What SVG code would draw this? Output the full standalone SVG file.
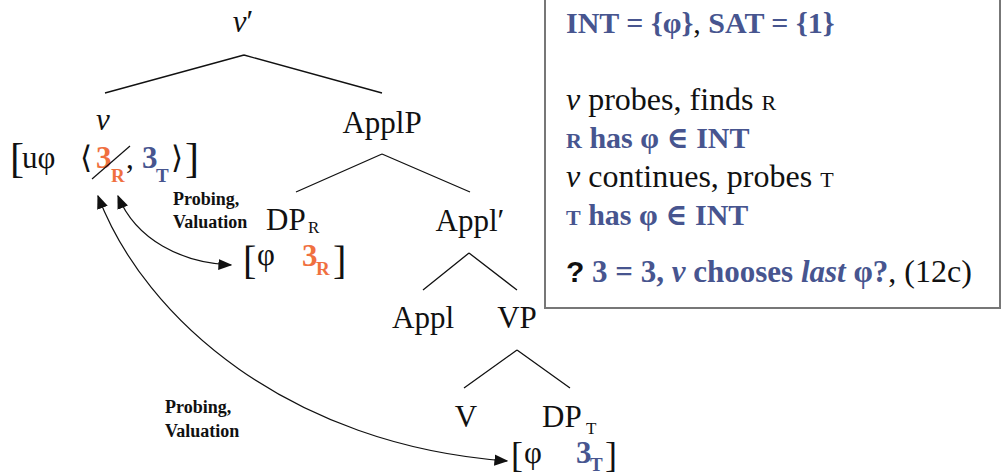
<svg xmlns="http://www.w3.org/2000/svg" width="1003" height="475" viewBox="0 0 1003 475">
<defs>
<style>
text{font-family:'Liberation Serif','DejaVu Serif',serif;font-size:31px;fill:#111}
.n{text-anchor:middle}
.o{fill:#f0703f;font-weight:bold}
.b{fill:#47558f;font-weight:bold}
.sub{font-size:19px;font-weight:bold}
.subn{font-size:17px}
.br{font-size:42px}
.lab{font-size:18px;font-weight:bold}
.bx{font-size:30px}
.bxr{font-size:32px}
.sc{font-size:22px}
.edge{stroke:#111;stroke-width:1.3;fill:none}
.arr{stroke:#111;stroke-width:1.2;fill:none;marker-start:url(#ah);marker-end:url(#ah)}
</style>
<marker id="ah" viewBox="0 0 10 10" refX="9" refY="5" markerWidth="14" markerHeight="14" markerUnits="userSpaceOnUse" orient="auto-start-reverse">
<path d="M0,1 L10,5 L0,9 z" fill="#111"/>
</marker>
</defs>
<g id="connectors">
<path class="edge" d="M244,55 L105,93 M244,55 L382,93"/>
<path class="edge" d="M382,154 L296,192 M382,154 L470,192"/>
<path class="edge" d="M469,253 L423,290 M469,253 L517,290"/>
<path class="edge" d="M517,350 L464,388 M517,350 L570,388"/>
<path class="arr" d="M118,196 C136,240 182,263 231,265"/>
<path class="arr" d="M98,196 C145,320 290,445 507,461"/>
</g>
<g id="vbar"><text class="n" x="243" y="32"><tspan font-style="italic">v</tspan>′</text></g>
<g id="v">
<text class="n" x="103" y="130" font-style="italic">v</text>
<text class="br" x="10" y="172">[</text>
<text x="22" y="168">uφ</text>
<text x="80" y="168">⟨</text>
<text class="o" x="96" y="168">3</text>
<text class="o sub" x="111" y="182">R</text>
<text x="126" y="168">,</text>
<text class="b" x="142" y="168">3</text>
<text class="b sub" x="156" y="182">T</text>
<text x="171" y="168">⟩</text>
<text class="br" x="185" y="172">]</text>
<line x1="92" y1="179" x2="130" y2="146" stroke="#111" stroke-width="1.2"/>
</g>
<g id="applp"><text class="n" x="382" y="133">ApplP</text></g>
<g id="dpr">
<text x="266" y="230">DP</text>
<text class="subn" x="308" y="233">R</text>
<text class="br" x="243" y="274" style="font-size:40px">[</text>
<text x="257" y="265">φ</text>
<text class="o" x="302" y="266">3</text>
<text class="o sub" x="316" y="275">R</text>
<text class="br" x="333" y="274" style="font-size:40px">]</text>
<text class="lab" x="173" y="205">Probing,</text>
<text class="lab" x="173" y="228">Valuation</text>
</g>
<g id="applbar"><text class="n" x="470" y="231">Appl′</text></g>
<g id="appl"><text class="n" x="423" y="328">Appl</text></g>
<g id="vp"><text class="n" x="517" y="328">VP</text></g>
<g id="V"><text class="n" x="466" y="427">V</text></g>
<g id="dpt">
<text x="542" y="427">DP</text>
<text class="subn" x="586" y="434">T</text>
<text class="br" x="511" y="467" style="font-size:36px">[</text>
<text x="524" y="463">φ</text>
<text class="b" x="576" y="463">3</text>
<text class="b sub" x="590" y="471">T</text>
<text class="br" x="605" y="467" style="font-size:36px">]</text>
<text class="lab" x="165" y="413">Probing,</text>
<text class="lab" x="165" y="437">Valuation</text>
</g>
<g id="box">
<rect x="545" y="-2" width="455" height="310" fill="#fff" stroke="#777" stroke-width="2"/>
<text class="bx b" x="566" y="33">INT = {φ}<tspan fill="#111" font-weight="normal">, </tspan>SAT = {1}</text>
<text class="bxr" x="566" y="110"><tspan font-style="italic">v</tspan> probes, finds <tspan class="sc">R</tspan></text>
<text class="bx b" x="566" y="148"><tspan class="sc">R</tspan> has φ ∈ INT</text>
<text class="bxr" x="566" y="187"><tspan font-style="italic">v</tspan> continues, probes <tspan class="sc">T</tspan></text>
<text class="bx b" x="566" y="225"><tspan class="sc">T</tspan> has φ ∈ INT</text>
<text class="bxr" x="566" y="282"><tspan font-family="'Liberation Sans',sans-serif" font-weight="bold" fill="#111" font-size="30px">?</tspan><tspan class="b" font-size="31px"> 3 = 3, <tspan font-style="italic">v</tspan> chooses <tspan font-style="italic">last</tspan> φ?</tspan>, (12c)</text>
</g>
</svg>
